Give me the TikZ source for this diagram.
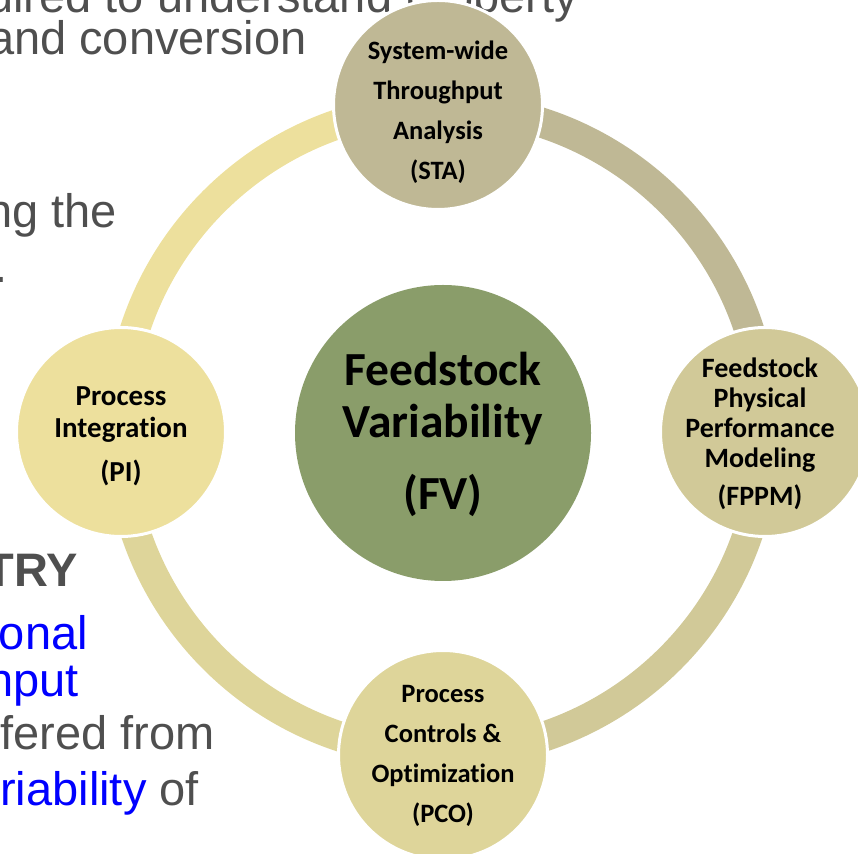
\documentclass[tikz,border=0pt]{standalone}
\usepackage{fontspec}
\setmainfont{Liberation Sans}
\newfontfamily\calibri[Ligatures=CommonOff]{Carlito}

\definecolor{slidegray}{HTML}{4F4F4F}
\definecolor{slideblue}{HTML}{0000FF}
\definecolor{hubgreen}{HTML}{8A9D6A}
\definecolor{staTan}{HTML}{BFB895}
\definecolor{fppmTan}{HTML}{D1C998}
\definecolor{pcoTan}{HTML}{DED59A}
\definecolor{piYellow}{HTML}{EDE09D}

\begin{document}
\begin{tikzpicture}[x = 1pt, y = 1pt,
  bg/.style={anchor=base east, inner sep=0, text=slidegray, font=\fontsize{47}{56}\selectfont},
  ring/.style={line width=30pt},
  phase/.style={circle, draw=white, line width=3pt, minimum size=209pt, inner sep=0},
  tag/.style={anchor=base, inner sep=0}]
\useasboundingbox (0,0) rectangle (858,853);
% Slide text behind the cycle
\node[bg] (l1) at (578,840) {uired to understand property};
\node[bg] (l2) at (307,798) {and conversion};
\node[bg] (l3) at (117,625) {ng the};
\node[bg] (l4) at (8,570) {.};
\node[bg] (l5) at (78,266) {\bfseries TRY};
\node[bg, text=slideblue] (l6) at (88,203) {onal};
\node[bg, text=slideblue] (l7) at (79,156) {nput};
\node[bg] (l8) at (215,103) {fered from};
\node[bg] (l9) at (199,48) {\textcolor{slideblue}{riability} of};
% Ring segments
\coordinate (ring) at (442,423);
\draw[ring, piYellow] (ring) ++(180:323) arc[start angle=180, end angle=90, radius=323];
\draw[ring, staTan] (ring) ++(90:323) arc[start angle=90, end angle=0, radius=323];
\draw[ring, fppmTan] (ring) ++(0:323) arc[start angle=0, end angle=-90, radius=323];
\draw[ring, pcoTan] (ring) ++(-90:323) arc[start angle=-90, end angle=-180, radius=323];
% Phases
\node[phase, fill=staTan] (sta) at (438,748) {};
\node[phase, fill=fppmTan] (fppm) at (765,421) {};
\node[phase, fill=pcoTan] (pco) at (443,98) {};
\node[phase, fill=piYellow] (pi) at (121,421) {};
% Hub
\node[circle, fill=hubgreen, minimum size=296pt, inner sep=0] (fv) at (443,420) {};
% Labels
\node[tag, font=\calibri\bfseries\fontsize{26.5}{40}\selectfont] (sta text) at (438,793)
  {\begin{tabular}[t]{@{}c@{}}System-wide\\Throughput\\Analysis\\(STA)\end{tabular}};
\node[tag, font=\calibri\bfseries\fontsize{28}{30}\selectfont] (fppm text) at (760,475)
  {\begin{tabular}[t]{@{}c@{}}Feedstock\\Physical\\Performance\\Modeling\\[8pt](FPPM)\end{tabular}};
\node[tag, font=\calibri\bfseries\fontsize{26.5}{40}\selectfont] (pco text) at (443,150)
  {\begin{tabular}[t]{@{}c@{}}Process\\Controls \&\\Optimization\\(PCO)\end{tabular}};
\node[tag, font=\calibri\bfseries\fontsize{29}{32}\selectfont] (pi text) at (121,447)
  {\begin{tabular}[t]{@{}c@{}}Process\\Integration\\[12pt](PI)\end{tabular}};
\node[tag, font=\calibri\bfseries\fontsize{47.5}{52}\selectfont] (fv text) at (443,467)
  {\begin{tabular}[t]{@{}c@{}}Feedstock\\Variability\\[20pt](FV)\end{tabular}};
\end{tikzpicture}
\end{document}
